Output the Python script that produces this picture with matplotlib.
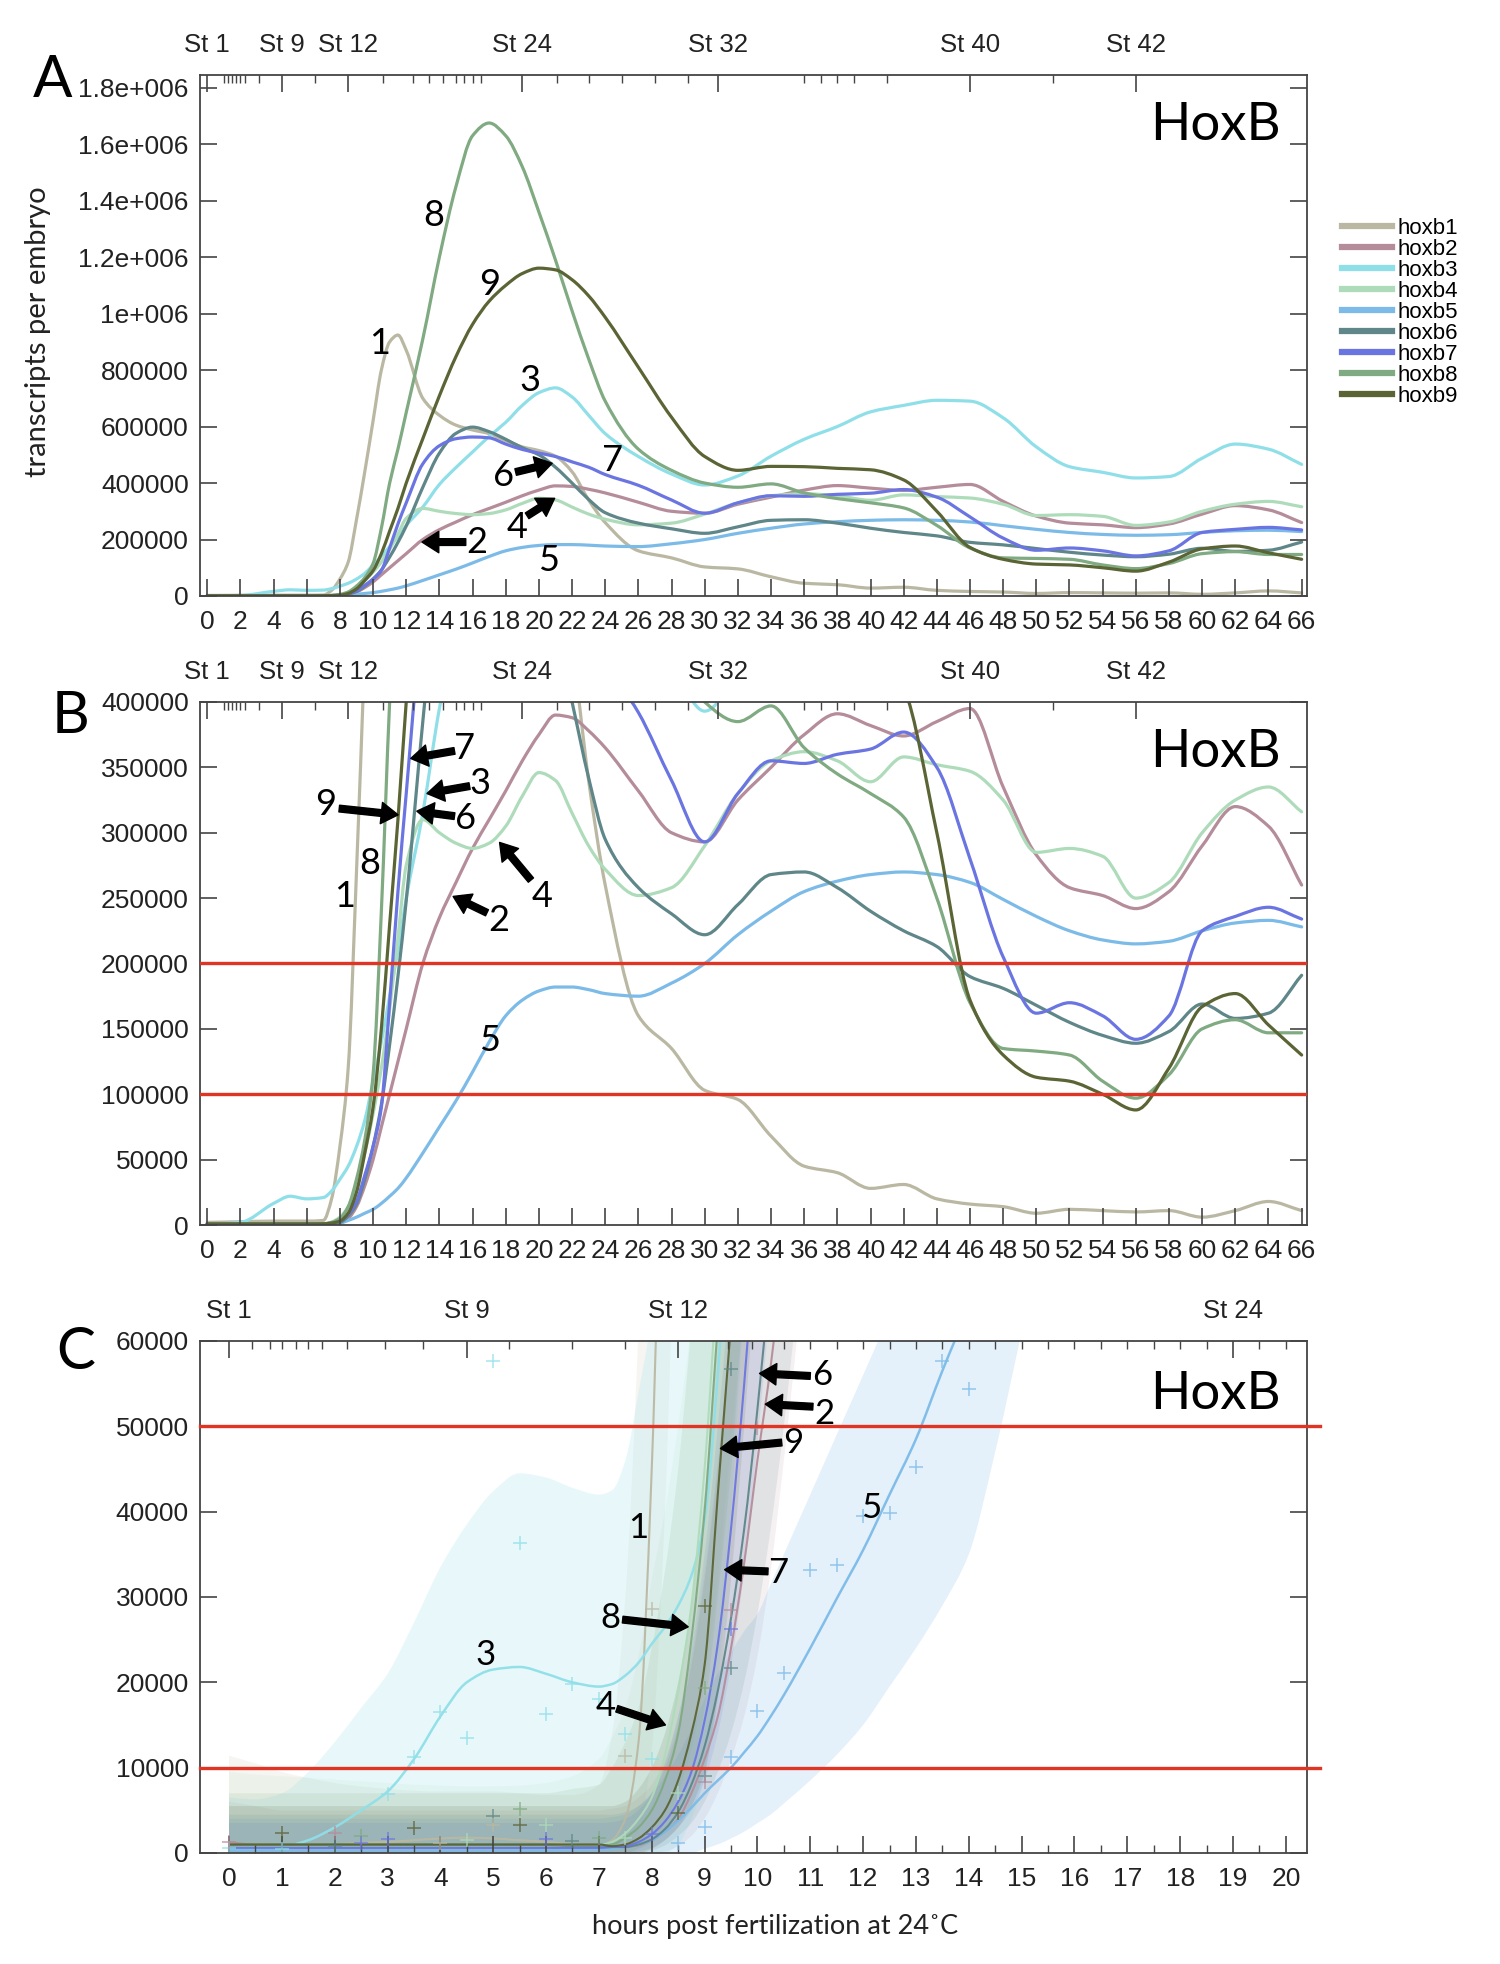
"""HoxB transcript time courses: full range (A), zoom below 400000 (B) and the early
window with fitted bands and replicates (C)."""
import numpy as np
import matplotlib
matplotlib.use("Agg")
import matplotlib.pyplot as plt
from matplotlib.lines import Line2D
from matplotlib.path import Path
from matplotlib.patches import PathPatch

plt.rcParams["font.family"] = ["Liberation Sans", "DejaVu Sans"]
CAL = ["Lato", "DejaVu Sans"]
N = None

genes = ["hoxb1", "hoxb2", "hoxb3", "hoxb4", "hoxb5", "hoxb6", "hoxb7", "hoxb8", "hoxb9"]
colors = ["#bab8a2", "#b58c9a", "#8fdfe9", "#aedcba", "#7cbbe8", "#5f8688", "#6b75e2", "#80aa81", "#5a6434"]

# ---- panels A/B: hours post fertilization and transcripts per embryo ----
hpf = [0, 2, 4, 5, 6, 7, 7.5, 8, 8.5, 9, 9.5, 10, 10.5, 11, 11.5, 12, 13, 14, 15, 16, 17, 18,
       19, 20, 21, 22, 23, 24, 26, 28, 30, 32, 34, 36, 38, 40, 42, 44, 46, 48, 50, 52, 54, 56,
       58, 60, 62, 64, 66]
hoxb1 = [2000, 2500, 3000, 3000, 3000, 3500, 20000, 60000, 120000, 270000, 440000, 620000, 800000,
         900000, 924000, 870000, 700000, 640000, 605000, 588000, 575000, 550000, 528000, 515000,
         495000, 440000, 340000, 260000, 160000, 135000, 103000, 96000, 68000, 45000, 40000, 28000,
         31000, 20000, 16000, 14000, 9000, 12000, 11000, 10000, 11000, 6000, 11000, 18000, 11000]
hoxb2 = [1000, 1000, 1000, 1000, 1000, 1000, 1200, 1500, 5000, 14000, 30000, 50000, 75000, 100000,
         125000, 150000, 200000, 235000, 262000, 288000, 310000, 332000, 355000, 375000, 390000,
         388000, 378000, 365000, 332000, 300000, 293000, 325000, 350000, 375000, 391000, 382000,
         374000, 385000, 395000, 335000, 283000, 258000, 252000, 242000, 255000, 290000, 320000,
         305000, 260000]
hoxb3 = [500, 2000, 16500, 22000, 20000, 21000, 26000, 35000, 45000, 60000, 80000, 110000, 140000,
         175000, 210000, 250000, 315000, 395000, 455000, 510000, 565000, 615000, 675000, 720000,
         737000, 705000, 640000, 575000, 494000, 432000, 393000, 425000, 495000, 555000, 600000,
         652000, 675000, 693000, 690000, 631000, 528000, 458000, 438000, 418000, 423000, 488000,
         538000, 520000, 466000]
hoxb4 = [800, 800, 800, 800, 800, 900, 2300, 6000, 14000, 30000, 55000, 85000, 120000, 165000,
         220000, 275000, 310000, 300000, 292000, 288000, 292000, 305000, 328000, 346000, 340000,
         315000, 290000, 272000, 252000, 258000, 290000, 330000, 355000, 362000, 355000, 339000,
         358000, 352000, 347000, 325000, 285000, 288000, 282000, 250000, 262000, 300000, 325000,
         335000, 316000]
hoxb5 = [300, 300, 300, 300, 300, 400, 700, 1500, 3500, 6000, 9000, 12000, 16500, 22000, 28000,
         36000, 55000, 75000, 95000, 117000, 140000, 160000, 172000, 179000, 182000, 182000,
         180000, 177000, 175000, 185000, 200000, 222000, 240000, 255000, 263000, 268000, 270000,
         268000, 262000, 249000, 236000, 225000, 218000, 215000, 217000, 225000, 231000, 233000,
         228000]
hoxb6 = [800, 800, 800, 800, 800, 900, 1300, 2000, 7000, 16000, 35000, 60000, 92000, 138000,
         190000, 248000, 385000, 506000, 576000, 598000, 582000, 555000, 525000, 500000, 456000,
         400000, 342000, 295000, 258000, 238000, 222000, 245000, 268000, 270000, 258000, 240000,
         225000, 213000, 190000, 181000, 168000, 155000, 145000, 139000, 148000, 169000, 158000,
         162000, 191000]
hoxb7 = [800, 800, 800, 800, 800, 900, 1500, 3000, 8000, 18000, 38000, 60000, 90000, 170000,
         255000, 330000, 468000, 532000, 557000, 563000, 560000, 538000, 519000, 506000, 494000,
         475000, 456000, 430000, 392000, 340000, 293000, 330000, 355000, 353000, 360000, 364000,
         377000, 350000, 280000, 205000, 162000, 170000, 160000, 142000, 160000, 225000, 236000,
         243000, 234000]
hoxb8 = [800, 800, 800, 800, 800, 900, 2000, 5000, 14000, 35000, 65000, 115000, 240000, 400000,
         520000, 650000, 910000, 1200000, 1450000, 1630000, 1675000, 1630000, 1520000, 1360000,
         1190000, 1010000, 840000, 690000, 520000, 445000, 400000, 385000, 397000, 365000,
         345000, 330000, 312000, 250000, 170000, 135000, 133000, 130000, 110000, 97000, 115000,
         150000, 157000, 147000, 147000]
hoxb9 = [800, 800, 800, 800, 800, 900, 1500, 3000, 9000, 25000, 55000, 90000, 150000, 230000,
         310000, 400000, 557000, 709000, 848000, 962000, 1044000, 1100000, 1142000, 1161000,
         1155000, 1120000, 1063000, 987000, 810000, 633000, 494000, 445000, 459000, 458000,
         452000, 447000, 411000, 300000, 172000, 130000, 113000, 110000, 100000, 88000, 120000,
         167000, 177000, 153000, 130000]
series = [hoxb1, hoxb2, hoxb3, hoxb4, hoxb5, hoxb6, hoxb7, hoxb8, hoxb9]

a_yticks = [0, 200000, 400000, 600000, 800000, 1000000, 1200000, 1400000, 1600000, 1800000]
a_ylabels = ["0", "200000", "400000", "600000", "800000", "1e+006", "1.2e+006", "1.4e+006",
             "1.6e+006", "1.8e+006"]
b_yticks = [0, 50000, 100000, 150000, 200000, 250000, 300000, 350000, 400000]
b_thresholds = [100000, 200000]

stage_names = ["St 1", "St 9", "St 12", "St 24", "St 32", "St 40", "St 42"]
stage_hours = [0, 4.5, 8.5, 19, 30.8, 46, 56]
stage_minor = [1.0, 1.25, 1.5, 1.75, 2.0, 2.25, 3.1, 6.5, 10.6, 12.4, 13.4, 14.2, 15.0, 15.5,
               16.0, 16.5, 21.1, 23.0, 25.0, 27.0, 29.0, 36.0, 37.0, 38.0, 39.0, 41.0, 51.0]

# ---- panel C: early window, fitted mean with band, plus replicate points ----
c_hours = [0, 0.5, 1, 1.5, 2, 2.5, 3, 3.5, 4, 4.5, 5, 5.5, 6, 6.5, 7,
           7.25, 7.5, 7.75, 8, 8.25, 8.5, 8.75, 9, 9.25, 9.5, 9.75, 10, 10.25, 10.5,
           11, 11.5, 12, 12.5, 13, 13.5, 14, 14.5, 15]
c_b1 = [700, 750, 800, 900, 1000, 1200, 1300, 1500, 1700, 1800, 1700, 1500, 1300, 1000, 800,
        1500, 4000, 13000, 45000, 100000, N, N, N, N, N, N, N, N, N,
        N, N, N, N, N, N, N, N, N]
c_b1_hi = [11400, 10500, 9500, 8800, 8200, 7800, 7500, 7300, 7200, 7200, 7200, 7000, 6800, 6800, 8000,
           14000, 30000, 62000, 120000, 200000, 300000, N, N, N, N, N, N, N, N,
           N, N, N, N, N, N, N, N, N]
c_b1_lo = [0, 0, 0, 0, 0, 0, 0, 0, 0, 0, 0, 0, 0, 0, 0,
           0, 500, 2500, 12000, 40000, 90000, N, N, N, N, N, N, N, N,
           N, N, N, N, N, N, N, N, N]
c_b2 = [1300, 900, 700, 600, 600, 600, 600, 600, 600, 600, 600, 600, 600, 600, 600,
        650, 700, 900, 1500, 2500, 4000, 7000, 11000, 16000, 24000, 34000, 46000, 57000, 70000,
        N, N, N, N, N, N, N, N, N]
c_b2_hi = [6000, 5500, 5000, 5000, 5000, 5000, 5000, 5000, 5000, 5000, 5000, 5000, 5000, 5000, 5000,
           5200, 5500, 6500, 8000, 11000, 16000, 23000, 33000, 46000, 62000, 85000, 110000, 140000, 170000,
           240000, N, N, N, N, N, N, N, N]
c_b2_lo = [0, 0, 0, 0, 0, 0, 0, 0, 0, 0, 0, 0, 0, 0, 0,
           0, 0, 0, 0, 200, 800, 2000, 4000, 7000, 11000, 16000, 23000, 33000, 46000,
           75000, N, N, N, N, N, N, N, N]
c_b3 = [500, 550, 700, 1500, 3000, 5000, 7200, 11000, 16000, 20000, 21500, 21800, 21000, 20000, 19500,
        19800, 20800, 22300, 24500, 26500, 29000, 32500, 39000, 56000, 80000, N, N, N, N,
        N, N, N, N, N, N, N, N, N]
c_b3_hi = [6500, 6300, 7000, 9500, 13000, 17000, 21000, 27000, 33500, 38500, 42400, 44500, 44000, 42800, 42000,
           42500, 46000, 54000, 63000, 80000, 100000, 120000, 140000, 170000, 200000, 230000, N, N, N,
           N, N, N, N, N, N, N, N, N]
c_b3_lo = [0, 0, 0, 0, 0, 0, 0, 0, 0, 0, 0, 0, 0, 0, 0,
           0, 0, 0, 0, 0, 1000, 4000, 9000, 20000, 40000, 65000, N, N, N,
           N, N, N, N, N, N, N, N, N]
c_b4 = [800, 800, 800, 800, 800, 800, 800, 800, 800, 800, 800, 800, 800, 850, 900,
        1300, 2300, 4000, 6500, 11500, 19000, 29000, 45000, 68000, N, N, N, N, N,
        N, N, N, N, N, N, N, N, N]
c_b4_hi = [9500, 9200, 9000, 8800, 8600, 8400, 8200, 8000, 7900, 7800, 7800, 7900, 8200, 9000, 11000,
           13500, 17000, 23000, 32000, 40000, 50000, 62000, 80000, 100000, 130000, 160000, N, N, N,
           N, N, N, N, N, N, N, N, N]
c_b4_lo = [0, 0, 0, 0, 0, 0, 0, 0, 0, 0, 0, 0, 0, 0, 0,
           0, 0, 500, 1500, 3500, 7000, 12000, 20000, 32000, 48000, 65000, N, N, N,
           N, N, N, N, N, N, N, N, N]
c_b5 = [300, 300, 300, 300, 300, 300, 300, 300, 300, 300, 300, 300, 300, 350, 400,
        500, 700, 1000, 1500, 2500, 3800, 5300, 7000, 8500, 10000, 11800, 13700, 16000, 18500,
        24000, 29800, 35500, 42000, 48500, 56500, 64000, 72000, 80000]
c_b5_hi = [4000, 4000, 4000, 4000, 4000, 4000, 4000, 4000, 4000, 4000, 4000, 4000, 4000, 4000, 4000,
           4200, 4500, 5500, 7000, 9000, 11500, 14500, 18000, 21000, 23500, 26000, 28000, 31500, 35000,
           42000, 49000, 56000, 63000, 70000, 77000, 84000, 92000, 100000]
c_b5_lo = [0, 0, 0, 0, 0, 0, 0, 0, 0, 0, 0, 0, 0, 0, 0,
           0, 0, 0, 0, 0, 0, 0, 500, 1000, 1700, 2500, 3500, 4500, 5800,
           8500, 11500, 15000, 19500, 24000, 29000, 35000, 47000, 61000]
c_b6 = [900, 900, 900, 900, 900, 900, 900, 900, 900, 900, 900, 900, 900, 800, 700,
        700, 700, 1000, 1600, 2800, 4800, 8000, 12500, 19000, 27500, 38000, 52000, 68000, N,
        N, N, N, N, N, N, N, N, N]
c_b6_hi = [4500, 4500, 4500, 4500, 4500, 4500, 4500, 4500, 4500, 4500, 4500, 4500, 4500, 4500, 4500,
           4500, 4800, 5500, 7000, 10000, 15000, 22000, 32000, 45000, 62000, 85000, 110000, 140000, 170000,
           240000, N, N, N, N, N, N, N, N]
c_b6_lo = [0, 0, 0, 0, 0, 0, 0, 0, 0, 0, 0, 0, 0, 0, 0,
           0, 0, 0, 300, 900, 2000, 3500, 6000, 9500, 14000, 20000, 28000, 38000, 50000,
           80000, N, N, N, N, N, N, N, N]
c_b7 = [600, 600, 600, 600, 600, 600, 600, 600, 600, 600, 600, 600, 600, 600, 600,
        700, 800, 1300, 2200, 3700, 6000, 9500, 15500, 24500, 38000, 55000, 75000, N, N,
        N, N, N, N, N, N, N, N, N]
c_b7_hi = [3500, 3500, 3500, 3500, 3500, 3500, 3500, 3500, 3500, 3500, 3500, 3500, 3500, 3500, 3500,
           3600, 4000, 5000, 7000, 10500, 16000, 24000, 35000, 50000, 68000, 95000, 120000, 150000, N,
           N, N, N, N, N, N, N, N, N]
c_b7_lo = [0, 0, 0, 0, 0, 0, 0, 0, 0, 0, 0, 0, 0, 0, 0,
           0, 0, 200, 600, 1500, 3000, 5000, 8500, 14000, 22000, 33000, 48000, 65000, N,
           N, N, N, N, N, N, N, N, N]
c_b8 = [1000, 1000, 1000, 1000, 1000, 1000, 1000, 1000, 1000, 1000, 1000, 1000, 1000, 900, 900,
        1000, 1800, 3000, 5000, 8500, 14000, 25000, 40000, 62000, N, N, N, N, N,
        N, N, N, N, N, N, N, N, N]
c_b8_hi = [7000, 7000, 7000, 7000, 7000, 7000, 7000, 7000, 7000, 7000, 7000, 7000, 7000, 7500, 8000,
           10000, 13000, 17000, 24000, 33000, 45000, 62000, 85000, 110000, 140000, 170000, N, N, N,
           N, N, N, N, N, N, N, N, N]
c_b8_lo = [0, 0, 0, 0, 0, 0, 0, 0, 0, 0, 0, 0, 0, 0, 0,
           0, 0, 500, 1200, 2500, 5000, 9500, 17000, 30000, 45000, 65000, N, N, N,
           N, N, N, N, N, N, N, N, N]
c_b9 = [1000, 1000, 1000, 1000, 1000, 1000, 1000, 1000, 1000, 1000, 1000, 1000, 1000, 1000, 1000,
        800, 1000, 1700, 3000, 5000, 8500, 14000, 22000, 42000, 62000, N, N, N, N,
        N, N, N, N, N, N, N, N, N]
c_b9_hi = [5500, 5500, 5500, 5500, 5500, 5500, 5500, 5500, 5500, 5500, 5500, 5500, 5500, 5500, 5500,
           5500, 6000, 7500, 10000, 14000, 20000, 29000, 42000, 62000, 85000, 110000, 140000, N, N,
           N, N, N, N, N, N, N, N, N]
c_b9_lo = [0, 0, 0, 0, 0, 0, 0, 0, 0, 0, 0, 0, 0, 0, 0,
           0, 0, 0, 500, 1500, 3000, 5500, 9500, 18000, 32000, 50000, 70000, N, N,
           N, N, N, N, N, N, N, N, N]
c_means = [c_b1, c_b2, c_b3, c_b4, c_b5, c_b6, c_b7, c_b8, c_b9]
c_his = [c_b1_hi, c_b2_hi, c_b3_hi, c_b4_hi, c_b5_hi, c_b6_hi, c_b7_hi, c_b8_hi, c_b9_hi]
c_los = [c_b1_lo, c_b2_lo, c_b3_lo, c_b4_lo, c_b5_lo, c_b6_lo, c_b7_lo, c_b8_lo, c_b9_lo]
c_thresholds = [10000, 50000]

# replicate measurements (hour, value, gene index)
c_pts_hour = [0, 1, 3, 3.5, 4, 4.5, 5, 5.5, 6, 6.5, 7, 7.5, 8,
              8.5, 9, 9.5, 10, 10.5, 11, 11.5, 12, 12.5, 13, 13.5, 14,
              0, 1, 2, 2, 2.5, 2.5, 3.5, 5, 5, 5.5, 5.5, 6, 6, 6.5, 7, 7.5, 7.5, 8, 8, 8.5, 8.5,
              9, 9, 9, 9, 9.5, 9.5, 9.5, 9.5, 10, 4, 3, 4.5]
c_pts_val = [600, 500, 6900, 11200, 16500, 13500, 57600, 36300, 16300, 19800, 18000, 14000, 11000,
             1200, 3000, 11300, 16600, 21100, 33200, 33800, 39500, 39900, 45200, 57600, 54400,
             1300, 2400, 2400, 800, 2000, 1200, 2900, 4300, 3300, 5100, 3300, 3300, 1600, 1400, 1800,
             11400, 1800, 28600, 2200, 4700, 7000, 29000, 19300, 9000, 8300, 28500, 26300, 21700,
             56700, 49800, 1200, 1600, 1500]
c_pts_gene = [2, 2, 2, 2, 2, 2, 2, 2, 2, 2, 2, 2, 2,
              4, 4, 4, 4, 4, 4, 4, 4, 4, 4, 4, 4,
              1, 8, 1, 5, 7, 6, 8, 5, 0, 7, 8, 3, 6, 5, 7, 0, 3, 0, 6, 8, 3,
              8, 7, 5, 1, 1, 6, 5, 5, 1, 0, 6, 3]

c_stage_hours = [0, 4.5, 8.5, 19]
c_stage_names = ["St 1", "St 9", "St 12", "St 24"]
c_stage_minor = [0.43, 0.77, 1.0, 1.26, 1.5, 1.76, 2.24, 2.96, 3.68, 5.3, 6.5, 7.5, 9.45, 9.9,
                 10.5, 11, 11.5, 12, 12.5, 13, 13.5, 14, 14.5, 15, 15.5, 16, 16.5, 17, 17.5,
                 18, 18.5, 19.5, 20]

# number labels and arrows: (text, hour, value) and ((tail), (tip))
a_labels = [("8", 13.63, 1348000), ("9", 17.02, 1104000), ("1", 10.38, 895000),
            ("3", 19.44, 762000), ("7", 24.43, 479000), ("6", 17.85, 426000),
            ("4", 18.68, 244000), ("2", 16.26, 191000), ("5", 20.57, 124000)]
a_arrows = [((18.6, 439000), (20.8, 470000)), ((19.29, 284000), (20.95, 346000)),
            ((15.59, 191000), (12.95, 191000))]
b_labels = [("7", 15.51, 364500), ("3", 16.42, 337600), ("9", 7.13, 321300),
            ("6", 15.59, 310800), ("8", 9.77, 276300), ("1", 8.26, 251300),
            ("4", 20.2, 251300), ("2", 17.55, 233100), ("5", 17.02, 141000)]
b_arrows = [((14.91, 362600), (12.27, 356800)), ((15.82, 335700), (13.25, 330000)),
            ((7.96, 318500), (11.51, 313700)), ((14.91, 312700), (12.64, 316500)),
            ((19.52, 263800), (17.63, 292600)), ((16.87, 238800), (14.83, 251300))]
c_labels = [("6", 11.22, 56000), ("2", 11.27, 51500), ("9", 10.67, 48000),
            ("1", 7.74, 38100), ("5", 12.16, 40400), ("7", 10.39, 32800),
            ("8", 7.22, 27500), ("3", 4.85, 23200), ("4", 7.12, 17200)]
c_arrows = [((11.0, 55900), (10.04, 56200)), ((11.05, 52300), (10.15, 52600)),
            ((10.46, 48100), (9.3, 47400)), ((10.2, 33000), (9.38, 33200)),
            ((7.45, 27350), (8.69, 26500)), ((7.34, 16900), (8.26, 15000))]


def f(a):
    return np.array([np.nan if v is None else v for v in a], dtype=float)


def runs(x, *ys):
    ok = np.all([np.isfinite(y) for y in ys], axis=0)
    idx = np.flatnonzero(ok)
    if len(idx) == 0:
        return []
    cuts = np.flatnonzero(np.diff(idx) > 1) + 1
    return [g for g in np.split(idx, cuts) if len(g) > 1]


def smooth(x, y):
    """Bezier path through the points with monotone (pchip-like) tangents."""
    h = np.diff(x)
    d = np.diff(y) / h
    m = np.empty(len(x))
    m[0], m[-1] = d[0], d[-1]
    for k in range(1, len(x) - 1):
        if d[k - 1] * d[k] <= 0:
            m[k] = 0.0
        else:
            w1, w2 = 2 * h[k] + h[k - 1], h[k] + 2 * h[k - 1]
            m[k] = (w1 + w2) / (w1 / d[k - 1] + w2 / d[k])
    verts, codes = [(x[0], y[0])], [Path.MOVETO]
    for k in range(len(x) - 1):
        verts += [(x[k] + h[k] / 3, y[k] + m[k] * h[k] / 3),
                  (x[k + 1] - h[k] / 3, y[k + 1] - m[k + 1] * h[k] / 3),
                  (x[k + 1], y[k + 1])]
        codes += [Path.CURVE4] * 3
    return verts, codes


def curve(ax, x, y, **kw):
    x, y = f(x), f(y)
    for g in runs(x, y):
        v, c = smooth(x[g], y[g])
        ax.add_patch(PathPatch(Path(v, c), fill=False, capstyle="round", **kw))


def band(ax, x, lo, hi, **kw):
    x, lo, hi = f(x), f(lo), f(hi)
    for g in runs(x, lo, hi):
        v1, c1 = smooth(x[g], hi[g])
        v2, c2 = smooth(x[g][::-1], lo[g][::-1])
        c2[0] = Path.LINETO
        ax.add_patch(PathPatch(Path(v1 + v2 + [v1[0]], c1 + c2 + [Path.CLOSEPOLY]), lw=0, **kw))


def style(ax, xlim, ylim):
    ax.set_xlim(*xlim)
    ax.set_ylim(*ylim)
    for s in ax.spines.values():
        s.set_color("#444444")
        s.set_linewidth(1.3)
    ax.tick_params(which="both", direction="in", top=False, right=True, colors="#444444",
                   labelcolor="#222222", labelsize=19)
    ax.tick_params(which="major", length=12, width=1.2)
    ax.tick_params(which="minor", length=6, width=1.0)
    ax.tick_params(axis="x", pad=10)
    ax.tick_params(axis="y", pad=8)


def stages(ax, hours, names, minor):
    top = ax.twiny()
    top.set_xlim(ax.get_xlim())
    top.set_xticks(hours)
    top.set_xticklabels(names)
    top.set_xticks(minor, minor=True)
    top.tick_params(which="both", direction="in", colors="#444444", labelcolor="#222222",
                    labelsize=18.5, pad=13)
    top.tick_params(which="major", length=12, width=1.2)
    top.tick_params(which="minor", length=6, width=1.0)
    for s in top.spines.values():
        s.set_visible(False)


def numbers(ax, labels, arrows, size=26):
    for t, x, y in labels:
        ax.text(x, y, t, fontsize=size, family=CAL, ha="center", va="center", color="black")
    for tail, tip in arrows:
        ax.annotate("", xy=tip, xytext=tail,
                    arrowprops=dict(arrowstyle="simple,head_length=0.55,head_width=0.7,tail_width=0.22",
                                    color="black", shrinkA=0, shrinkB=0, mutation_scale=22))


fig = plt.figure(figsize=(15, 19.64), dpi=100)
axA = fig.add_axes([0.1333, 0.69654, 0.738, 0.26527])
axB = fig.add_axes([0.1333, 0.37627, 0.738, 0.2663])
axC = fig.add_axes([0.1333, 0.05652, 0.738, 0.2607])

for ax, ymax in [(axA, 1845000), (axB, 400000)]:
    for vals, col in zip(series, colors):
        curve(ax, hpf, vals, edgecolor=col, lw=2.3)
    style(ax, (-0.44, 66.32), (0, ymax))
    ax.set_xticks(range(0, 67, 2))
    stages(ax, stage_hours, stage_names, stage_minor)
    ax.text(0.976, 0.903, "HoxB", transform=ax.transAxes, fontsize=38, family=CAL,
            ha="right", va="center")

axA.set_yticks(a_yticks)
axA.set_yticklabels(a_ylabels)
axB.set_yticks(b_yticks)
axB.set_yticklabels([str(v) for v in b_yticks])
for y in b_thresholds:
    axB.axhline(y, color="#e03524", lw=2.4, zorder=5)
numbers(axA, a_labels, a_arrows)
numbers(axB, b_labels, b_arrows)

# panel C
for i in range(9):
    alpha = 0.2 if i in (2, 4) else 0.13
    band(axC, c_hours, c_los[i], c_his[i], facecolor=colors[i], alpha=alpha)
for i in range(9):
    curve(axC, c_hours, c_means[i], edgecolor=colors[i], lw=1.8 if i in (2, 4) else 1.5, alpha=0.95)
for h, v, g in zip(c_pts_hour, c_pts_val, c_pts_gene):
    axC.plot(h, v, marker="+", ms=10, mew=1.1, color=colors[g], alpha=0.8, ls="none")
for y in c_thresholds:
    axC.axhline(y, xmax=1.012, color="#e03524", lw=2.4, zorder=5, clip_on=False)
style(axC, (-0.55, 20.4), (0, 60000))
axC.set_xticks(range(0, 21))
axC.set_xticks(np.arange(0.5, 20.5, 1.0), minor=True)
axC.set_yticks(range(0, 60001, 10000))
stages(axC, c_stage_hours, c_stage_names, c_stage_minor)
axC.text(0.976, 0.896, "HoxB", transform=axC.transAxes, fontsize=38, family=CAL,
         ha="right", va="center")
numbers(axC, c_labels, c_arrows, size=25)

handles = [Line2D([0], [0], color=c, lw=4.5) for c in colors]
fig.legend(handles, genes, loc="upper left", bbox_to_anchor=(0.8947, 0.889), frameon=False,
           fontsize=16, handlelength=2.25, handletextpad=0.25, labelspacing=0.0,
           borderpad=0, borderaxespad=0)

fig.text(0.0253, 0.831, "transcripts per embryo", rotation=90, fontsize=21, family=CAL,
         ha="center", va="center", color="#222222")
fig.text(0.5167, 0.0193, "hours post fertilization at 24\u02daC", fontsize=19.5, family=CAL,
         ha="center", va="center", color="#222222")
for letter, x, y in [("A", 0.0353, 0.9588), ("B", 0.0467, 0.6354), ("C", 0.0507, 0.3116)]:
    fig.text(x, y, letter, fontsize=42, family=CAL, ha="center", va="center")

fig.savefig("out.png", dpi=100)
